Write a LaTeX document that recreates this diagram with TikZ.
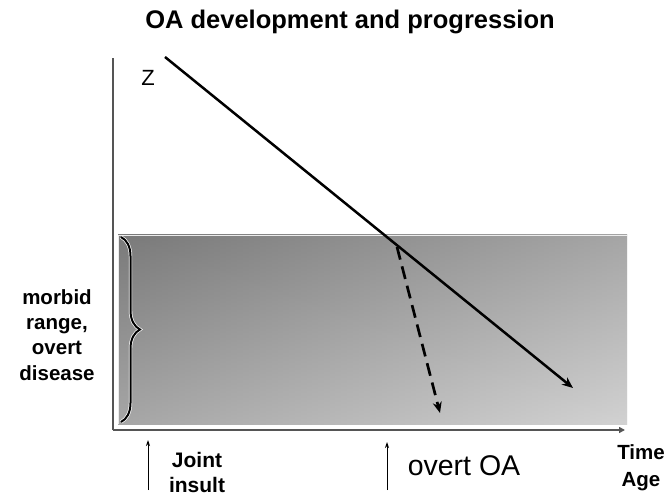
\documentclass[tikz,border=0pt]{standalone}
\usepackage{fontspec}
\setmainfont{Liberation Sans}
\usetikzlibrary{arrows.meta,decorations.pathreplacing}
\definecolor{axisgray}{HTML}{555555}
\definecolor{shadedark}{HTML}{7A7A7A}
\definecolor{shadelight}{HTML}{D2D2D2}
\tikzset{
  lbl/.style={inner sep=0pt, align=center, text=black},
  thinarrow/.style={line width=0.9pt, -{Stealth[length=6pt,width=4pt]}},
  trend/.style={line width=2.5pt, -{Stealth[length=11pt,width=9pt]}},
}
\begin{document}
\begin{tikzpicture}[x=1pt,y=-1pt]
\useasboundingbox (0,0) rectangle (670,497);
% shaded morbid range: horizontal ramp blended with vertical ramp
\shade[left color=shadedark, right color=shadelight] (118,235) rectangle (627,424);
\shade[top color=shadedark, bottom color=shadelight, opacity=0.5] (118,235) rectangle (627,424);
\draw[white!85!gray, line width=0.8pt] (118,424) -- (118,235) -- (627,235);
% axes
\coordinate (o) at (113,430);
\coordinate (ytop) at (113,58);
\coordinate (xend) at (625,430);
\draw[axisgray, line width=1.8pt] (o) -- (ytop);
\draw[axisgray, line width=2.6pt, -{Triangle[length=6pt,width=6pt]}] (o) -- (xend);
% brace
\coordinate (bt) at (121,237);
\coordinate (bb) at (121,422);
\draw[white, line width=3.4pt, decorate, decoration={brace, amplitude=19pt}] (bt) -- (bb);
\draw[black, line width=2pt, decorate, decoration={brace, amplitude=19pt}] (bt) -- (bb);
% trend lines
\coordinate (s) at (165,57);
\coordinate (x) at (397,247);
\coordinate (e) at (573,388);
\coordinate (d) at (440,413);
\draw[trend] (s) -- (e);
\draw[trend, line width=2.7pt, dash pattern=on 13pt off 7pt] (x) -- (d);
% texts
\node[lbl, font=\fontsize{25.5}{30}\selectfont\bfseries] (title) at (350,22) {OA development and progression};
\node[lbl, font=\fontsize{22}{26}\selectfont] (z) at (148,78) {Z};
\node[lbl, font=\fontsize{20.5}{25.3}\selectfont\bfseries] (morbid) at (57,335) {morbid\\range,\\overt\\disease};
\node[lbl, font=\fontsize{21}{25}\selectfont\bfseries] (joint) at (197,472) {Joint\\insult};
\node[lbl, font=\fontsize{28.5}{32}\selectfont] (overt) at (464,466) {overt OA};
\node[lbl, font=\fontsize{20.5}{27}\selectfont\bfseries] (time) at (641,468) {Time\\Age};
% event arrows
\coordinate (j0) at (148,490);
\coordinate (j1) at (148,440);
\coordinate (v0) at (387,490);
\coordinate (v1) at (387,442);
\draw[thinarrow] (j0) -- (j1);
\draw[thinarrow] (v0) -- (v1);
\end{tikzpicture}
\end{document}
